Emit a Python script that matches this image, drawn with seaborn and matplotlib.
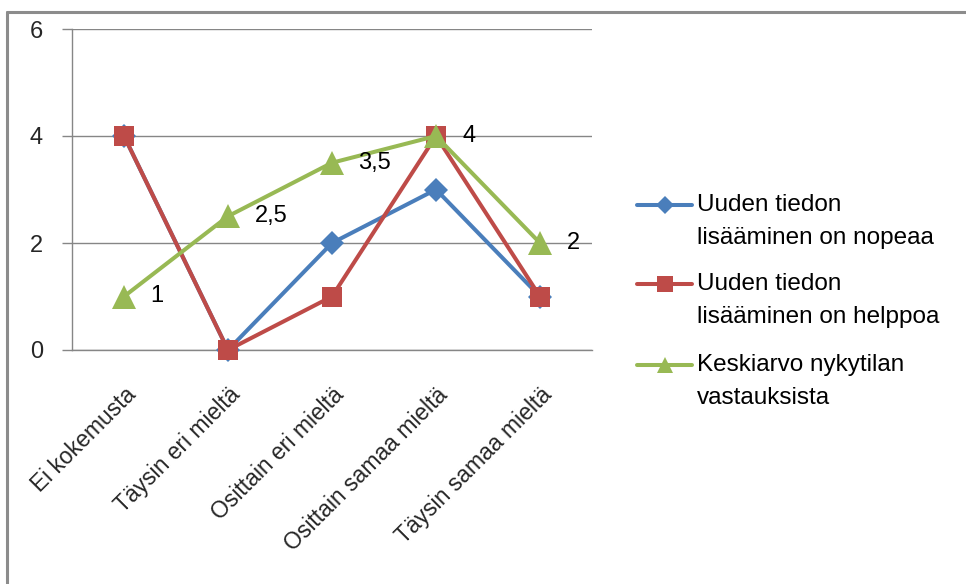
import matplotlib
matplotlib.use("Agg")
import matplotlib.pyplot as plt
from matplotlib.lines import Line2D
import seaborn as sns
import pandas as pd

categories = ["Ei kokemusta", "Täysin eri mieltä", "Osittain eri mieltä",
              "Osittain samaa mieltä", "Täysin samaa mieltä"]
nopeaa = [4, 0, 2, 3, 1]
helppoa = [4, 0, 1, 4, 1]
keskiarvo = [1, 2.5, 3.5, 4, 2]
y_ticks = [0, 2, 4, 6]

series_names = ["Uuden tiedon\nlisääminen on nopeaa",
                "Uuden tiedon\nlisääminen on helppoa",
                "Keskiarvo nykytilan\nvastauksista"]
series_values = [nopeaa, helppoa, keskiarvo]
colors = ["#4A7EBB", "#BE4B48", "#98B954"]
markers = ["D", "s", "^"]
marker_sizes = [12, 15, 17]

sns.set_theme(style="white")
plt.rcParams["font.family"] = ["Liberation Sans", "DejaVu Sans"]
FS = 17

rows = []
for name, vals in zip(series_names, series_values):
    for i, v in enumerate(vals):
        rows.append({"pos": i, "value": v, "series": name})
df = pd.DataFrame(rows)

W, H = 966, 584
fig = plt.figure(figsize=(W / 100, H / 100), dpi=100)
ax = fig.add_axes([72 / W, 1 - 350 / H, (592 - 72) / W, (350 - 29) / H])

for name, col, mk, ms in zip(series_names, colors, markers, marker_sizes):
    sub = df[df["series"] == name]
    sns.lineplot(data=sub, x="pos", y="value", ax=ax, color=col, lw=2.9,
                 marker=mk, markersize=ms, markeredgewidth=0, legend=False,
                 clip_on=False, zorder=3)

# value labels for the average series
for i, v in enumerate(keskiarvo):
    txt = ("%g" % v).replace(".", ",")
    ax.annotate(txt, (i, v), xytext=(19, 0), textcoords="offset points",
                ha="left", va="center", fontsize=FS, color="black")

ax.set_xlim(-0.5, len(categories) - 0.5)
ax.set_ylim(0, 6)
ax.set_yticks(y_ticks)
ax.set_yticklabels([str(t) for t in y_ticks], fontsize=FS)
ax.set_xticks(range(len(categories)))
ax.set_xticklabels(categories, rotation=45, ha="right", rotation_mode="anchor",
                   fontsize=16.5)
ax.set_xticks([i - 0.5 for i in range(len(categories) + 1)], minor=True)
ax.tick_params(axis="x", which="major", length=0, pad=24)
ax.tick_params(axis="x", which="minor", length=7, width=1, color="#868686", direction="out")
ax.tick_params(axis="y", which="major", length=7, width=1, color="#868686",
               direction="out", pad=14, left=True)
ax.set_xlabel("")
ax.set_ylabel("")
ax.grid(axis="y", color="#868686", lw=1)
ax.set_axisbelow(True)
for s in ["top", "right"]:
    ax.spines[s].set_visible(False)
for s in ["left", "bottom"]:
    ax.spines[s].set_color("#868686")
    ax.spines[s].set_linewidth(1)
    ax.spines[s].set_zorder(1)

# chart border
fig.add_artist(Line2D([7 / W, 7 / W], [1 - 12 / H, 0], color="#8c8c8c", lw=2.2,
                      transform=fig.transFigure))
fig.add_artist(Line2D([7 / W, 1], [1 - 12 / H, 1 - 12 / H], color="#8c8c8c", lw=2.2,
                      transform=fig.transFigure))

# legend
legend_y = [205, 284, 365]
legend_ms = [9, 11, 12]
for name, col, mk, ms, y in zip(series_names, colors, markers, legend_ms, legend_y):
    fy = 1 - y / H
    fig.add_artist(Line2D([637 / W, 692 / W], [fy, fy], color=col, lw=2.9,
                          transform=fig.transFigure))
    fig.add_artist(Line2D([664.5 / W], [fy], color=col, marker=mk, markersize=ms,
                          markeredgewidth=0, transform=fig.transFigure))
    lines = name.split("\n")
    for k, line in enumerate(lines):
        fig.text(697 / W, 1 - (y + k * 33) / H, line, ha="left", va="center",
                 fontsize=17.5, color="black")

fig.savefig("out.png", dpi=100, facecolor="white")
